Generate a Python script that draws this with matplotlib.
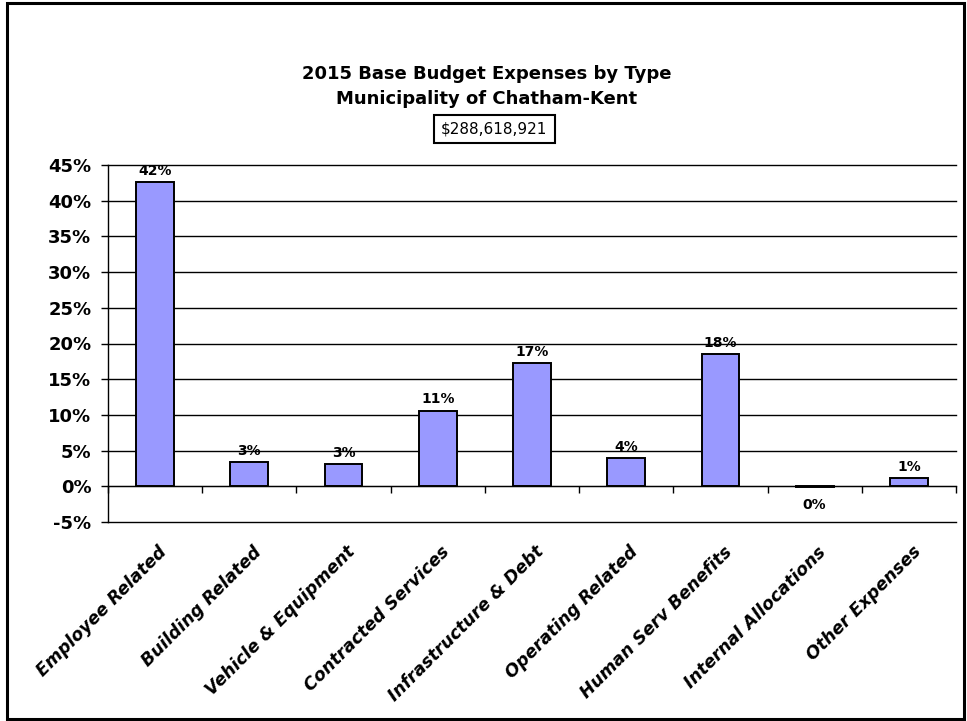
import matplotlib
matplotlib.use('Agg')
from matplotlib import pyplot as plt
from matplotlib.patches import Rectangle
from matplotlib.ticker import FuncFormatter
import numpy as np

plt.rcParams['font.family'] = ['DejaVu Sans']

categories = ['Employee Related', 'Building Related', 'Vehicle & Equipment',
              'Contracted Services', 'Infrastructure & Debt', 'Operating Related',
              'Human Serv Benefits', 'Internal Allocations', 'Other Expenses']
shares = [42.6, 3.4, 3.1, 10.6, 17.2, 3.9, 18.5, -0.1, 1.15]
bar_labels = ['42%', '3%', '3%', '11%', '17%', '4%', '18%', '0%', '1%']
yticks = [-5, 0, 5, 10, 15, 20, 25, 30, 35, 40, 45]
title1 = '2015 Base Budget Expenses by Type'
title2 = 'Municipality of Chatham-Kent'
total = '$288,618,921'

W, H = 967, 721
fig = plt.figure(figsize=(W/100, H/100), dpi=100)
fig.patch.set_facecolor('white')

# outer chart border
fig.patches.append(Rectangle((7/W, 1-719/H), (964-7)/W, (719-3)/H,
                             transform=fig.transFigure, fill=False,
                             edgecolor='black', linewidth=2.2))

ax = fig.add_axes([108/W, 1-522/H, (956-108)/W, (522-165)/H])
x = np.arange(len(categories))
ax.bar(x, shares, width=0.4, color='#9999ff', edgecolor='black', linewidth=1.4, zorder=3)

ax.set_xlim(-0.5, len(categories)-0.5)
ax.set_ylim(-5, 45)
ax.set_yticks(yticks)
ax.yaxis.set_major_formatter(FuncFormatter(lambda v, p: '%d%%' % v))
for lab in ax.get_yticklabels():
    lab.set_fontweight('bold')
    lab.set_fontsize(13)
ax.tick_params(axis='y', direction='out', length=5, width=1, pad=7)
# gridlines, drawn unclipped so the ones on the limits show fully
for yv in yticks:
    ax.axhline(yv, color='black', linewidth=1, zorder=1, clip_on=False)

ax.spines['top'].set_visible(False)
ax.spines['right'].set_visible(False)
ax.spines['bottom'].set_position(('data', 0))
ax.spines['left'].set_linewidth(1)
ax.set_xticks(np.arange(len(categories)+1) - 0.5)
ax.set_xticklabels([])
ax.tick_params(axis='x', direction='out', length=5, width=1)

for i, (v, t) in enumerate(zip(shares, bar_labels)):
    if v >= 0:
        ax.annotate(t, (i, v), xytext=(0, 3), textcoords='offset points',
                    ha='center', va='bottom', fontsize=10, fontweight='bold')
    else:
        ax.annotate(t, (i, v), xytext=(0, -8), textcoords='offset points',
                    ha='center', va='top', fontsize=10, fontweight='bold')

for i, c in enumerate(categories):
    ax.annotate(c, (i, -5), xytext=(2, -15), textcoords='offset points',
                ha='right', va='top', rotation=45, rotation_mode='anchor',
                fontsize=12.5, fontweight='bold', fontstyle='italic',
                annotation_clip=False)

fig.text(487/W, 1-74/H, title1, ha='center', va='center', fontsize=13, fontweight='bold')
fig.text(487/W, 1-99/H, title2, ha='center', va='center', fontsize=13, fontweight='bold')

fig.patches.append(Rectangle((434/W, 1-143/H), (555-434)/W, (143-115)/H,
                             transform=fig.transFigure, fill=False,
                             edgecolor='black', linewidth=1.5))
fig.text(494/W, 1-129/H, total, ha='center', va='center', fontsize=11)

fig.savefig('out.png', dpi=100, facecolor='white')
